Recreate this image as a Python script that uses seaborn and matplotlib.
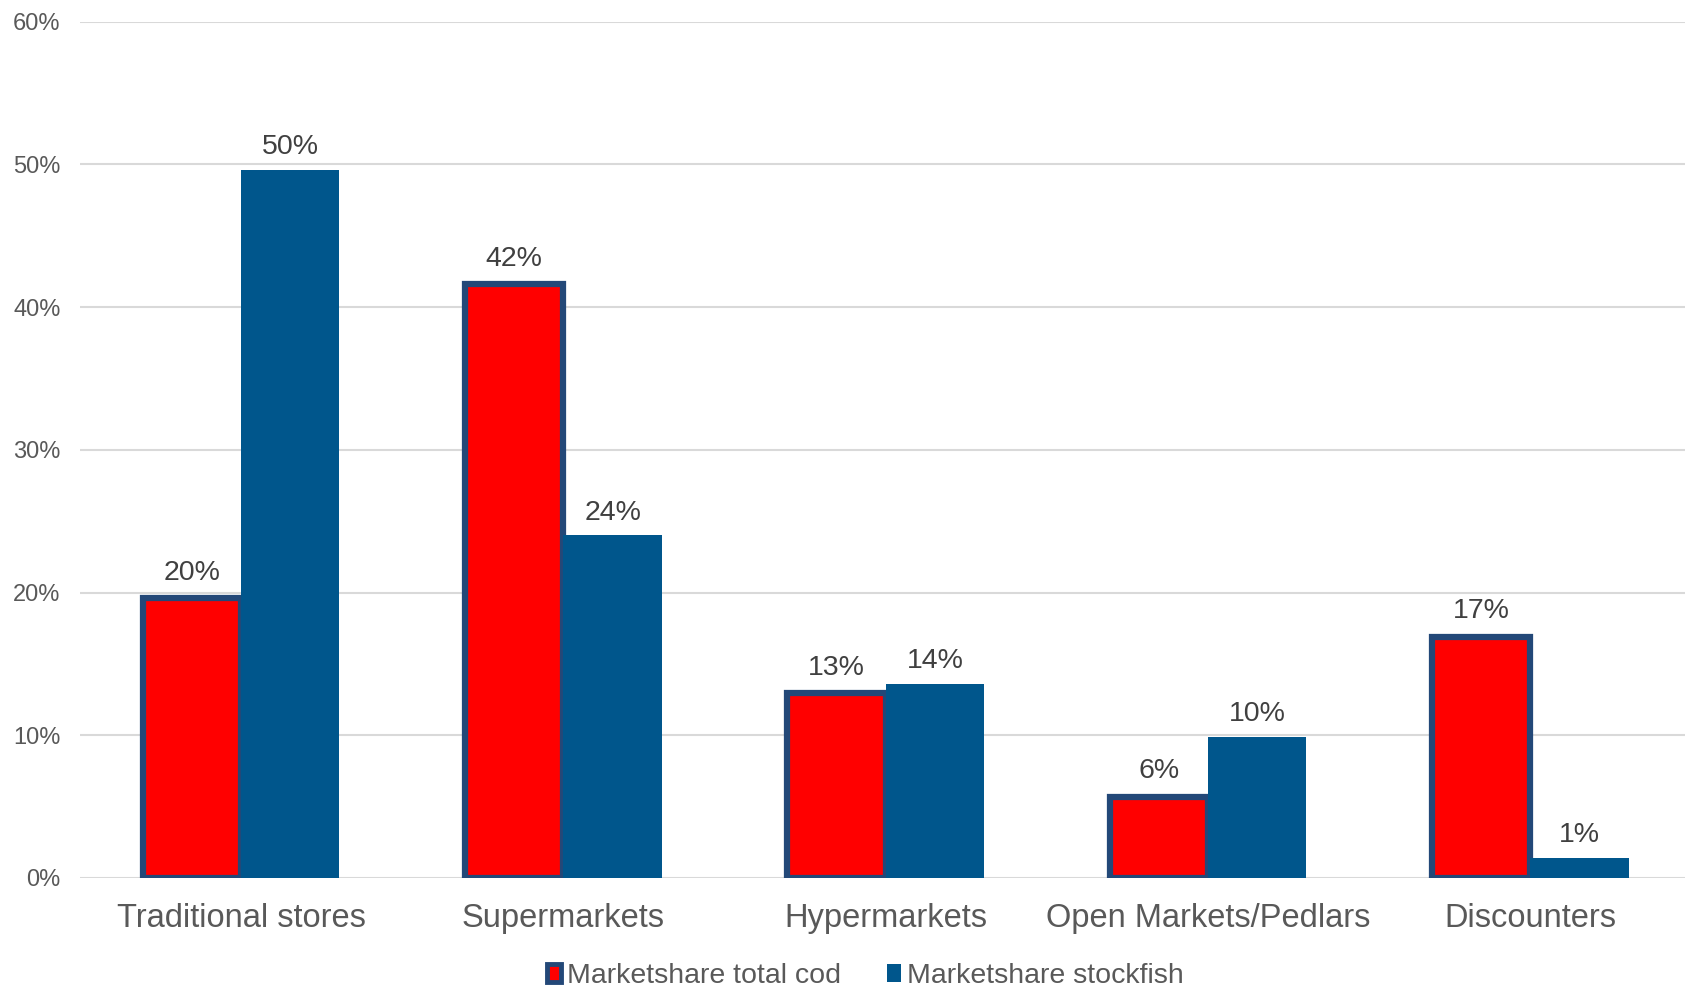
import matplotlib
matplotlib.use("Agg")
import matplotlib.pyplot as plt
import seaborn as sns
import pandas as pd
from matplotlib.patches import Patch
from matplotlib.ticker import FuncFormatter

categories = ["Traditional stores", "Supermarkets", "Hypermarkets", "Open Markets/Pedlars", "Discounters"]
series_names = ["Marketshare total cod", "Marketshare stockfish"]
total_cod = [19.6, 41.6, 12.95, 5.7, 16.9]
stockfish = [49.6, 24.0, 13.6, 9.9, 1.4]
y_ticks = [0, 10, 20, 30, 40, 50, 60]

RED = "#FF0000"
BLUE = "#00568C"
EDGE = "#234878"
GRAY_TXT = "#595959"

df = pd.DataFrame({
    "category": categories * 2,
    "series": [series_names[0]] * len(categories) + [series_names[1]] * len(categories),
    "value": total_cod + stockfish,
})

sns.set_theme(style="white")
plt.rcParams["font.family"] = ["Liberation Sans", "DejaVu Sans"]

fig = plt.figure(figsize=(16.85, 9.86), dpi=100)
ax = fig.add_axes([80 / 1685, 1 - 878 / 986, 1 - 80 / 1685, (878 - 21.5) / 986])

sns.barplot(data=df, x="category", y="value", hue="series", order=categories,
            hue_order=series_names, palette=[RED, BLUE], width=0.61,
            saturation=1, ax=ax, legend=False, linewidth=0)

for cont, name in zip(ax.containers, series_names):
    if name == series_names[0]:
        for p in cont:
            p.set_edgecolor(EDGE)
            p.set_linewidth(4.5)
    ax.bar_label(cont, labels=[f"{v:.0f}%" for v in cont.datavalues],
                 padding=7 if name == series_names[1] else 9,
                 fontsize=20.5, color="#404040")

ax.set_ylim(0, 60)
ax.set_xlim(-0.5, 4.48)
ax.set_yticks(y_ticks)
ax.yaxis.set_major_formatter(FuncFormatter(lambda v, _: f"{v:.0f}%"))
ax.grid(axis="y", color="#D9D9D9", linewidth=1.5)
ax.grid(axis="x", visible=False)
ax.set_axisbelow(True)
for s in ax.spines.values():
    s.set_visible(False)
ax.set_xlabel("")
ax.set_ylabel("")
ax.tick_params(axis="y", length=0, pad=14, labelsize=17, labelcolor=GRAY_TXT)
ax.tick_params(axis="x", length=0, pad=18, labelsize=23.5, labelcolor=GRAY_TXT)

handles = [Patch(facecolor=RED, edgecolor=EDGE, linewidth=3.5),
           Patch(facecolor=BLUE, edgecolor=BLUE, linewidth=0)]
fig.legend(handles, series_names, loc="center", bbox_to_anchor=(0.5135, 1 - 976 / 986),
           ncol=2, frameon=False, fontsize=20.5, labelcolor=GRAY_TXT,
           handlelength=0.5, handleheight=0.6, handletextpad=0.2, columnspacing=1.6)

fig.savefig("out.png", dpi=100)
